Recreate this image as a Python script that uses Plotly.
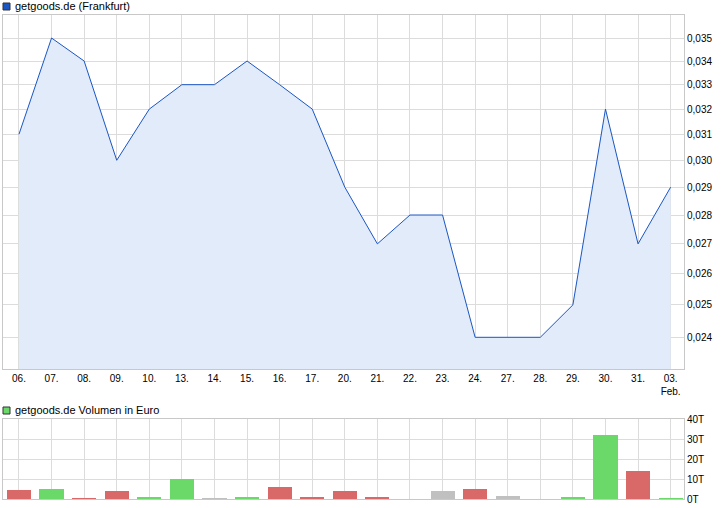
import plotly.graph_objects as go
import math

# ---- data ----
days = ["06.", "07.", "08.", "09.", "10.", "13.", "14.", "15.", "16.", "17.",
        "20.", "21.", "22.", "23.", "24.", "27.", "28.", "29.", "30.", "31.", "03.<br>Feb."]
prices = [0.031, 0.035, 0.034, 0.030, 0.032, 0.033, 0.033, 0.034, 0.033, 0.032,
          0.029, 0.027, 0.028, 0.028, 0.024, 0.024, 0.024, 0.025, 0.032, 0.027, 0.029]
volumes_t = [4.5, 5, 0.5, 4, 1, 10, 0.5, 1, 6, 1,
             4, 1, 0, 4, 5, 1.5, 0, 1, 32, 14, 0.5]
vol_dir = ["down", "up", "down", "down", "up", "up", "flat", "up", "down", "down",
           "down", "down", "up", "flat", "down", "flat", "flat", "up", "up", "down", "up"]
price_ticks = [0.024, 0.025, 0.026, 0.027, 0.028, 0.029, 0.030, 0.031, 0.032, 0.033, 0.034, 0.035]
price_ticktext = ["0,024", "0,025", "0,026", "0,027", "0,028", "0,029", "0,030",
                  "0,031", "0,032", "0,033", "0,034", "0,035"]
vol_ticks = [0, 10, 20, 30, 40]
vol_ticktext = ["0T", "10T", "20T", "30T", "40T"]

# ---- styles ----
LINE = "#1a56c4"
FILL = "#e1ebf9"
GRID = "#dcdcdc"
BORDER = "#c8c8c8"
dir_colors = {"up": "#6ad96a", "down": "#d96868", "flat": "#c0c0c0"}
FONT = "Liberation Sans"

W, H = 726, 508
ml, mr, mt, mb = 3, 42, 15, 9
ph = H - mt - mb

fig = go.Figure()
x = list(range(len(days)))

fig.add_trace(go.Scatter(
    x=x, y=prices, mode="lines", line=dict(color=LINE, width=1),
    fill="tozeroy", fillcolor=FILL, xaxis="x", yaxis="y", hoverinfo="skip",
))
fig.add_trace(go.Bar(
    x=x, y=volumes_t, marker=dict(color=[dir_colors[d] for d in vol_dir], line=dict(width=0)),
    width=0.74, xaxis="x2", yaxis="y2", hoverinfo="skip",
))

xr = [-0.49, 20.41]
axis_common = dict(showgrid=True, gridcolor=GRID, gridwidth=1, showline=True,
                   linecolor=BORDER, linewidth=1, mirror=True, zeroline=False,
                   ticks="", tickfont=dict(family=FONT, size=10, color="#000"))

fig.update_layout(
    width=W, height=H, margin=dict(l=ml, r=mr, t=mt, b=mb),
    paper_bgcolor="white", plot_bgcolor="white", showlegend=False,
    xaxis=dict(axis_common, range=xr, tickvals=x, ticktext=days, anchor="y"),
    yaxis=dict(axis_common, type="log", domain=[(499 - 369) / ph, 1],
               range=[math.log10(0.02306), math.log10(0.03603)],
               tickvals=price_ticks, ticktext=price_ticktext, side="right", anchor="x"),
    xaxis2=dict(axis_common, range=xr, tickvals=x, showticklabels=False, anchor="y2"),
    yaxis2=dict(axis_common, domain=[0, 80 / ph], range=[0, 40], tickvals=vol_ticks,
                ticktext=vol_ticktext, side="right", anchor="x2"),
    bargap=0,
)

# legend-like headers
def header(ypx, text, color):
    fig.add_shape(type="rect", xref="paper", yref="paper",
                  x0=(3 - ml) / (W - ml - mr), x1=(10 - ml) / (W - ml - mr),
                  y0=(H - mb - (ypx + 4)) / ph, y1=(H - mb - (ypx - 3)) / ph,
                  fillcolor=color, line=dict(color="#333", width=1))
    fig.add_annotation(xref="paper", yref="paper", x=(13 - ml) / (W - ml - mr),
                       y=(H - mb - ypx) / ph, text=text, showarrow=False,
                       xanchor="left", yanchor="middle",
                       font=dict(family=FONT, size=11, color="#000"))

header(6, "getgoods.de (Frankfurt)", LINE)
header(410, "getgoods.de Volumen in Euro", dir_colors["up"])

fig.write_html("out.html", config={"displayModeBar": False, "staticPlot": True},
               post_script="document.body.style.margin='0';document.body.style.overflow='hidden';")
